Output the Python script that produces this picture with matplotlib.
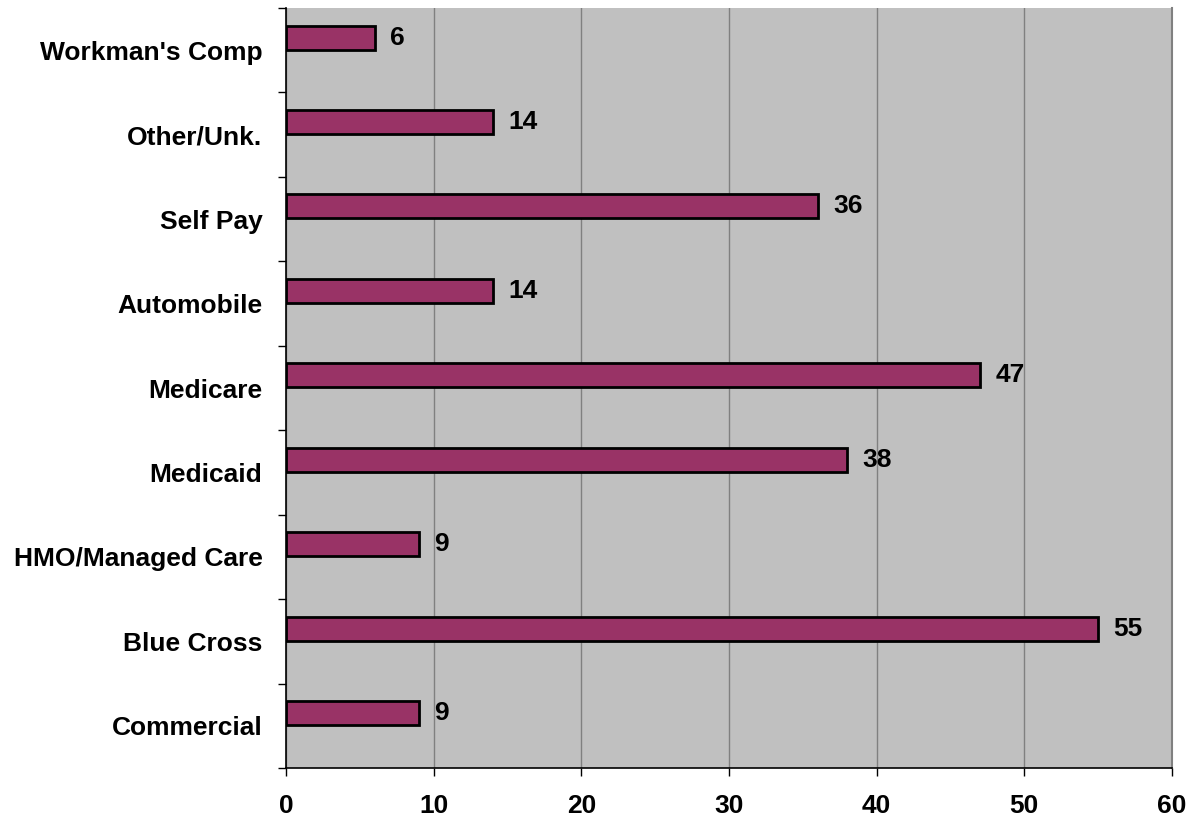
import numpy as np
import matplotlib.pyplot as plt
from matplotlib.ticker import FixedLocator

payers = ['Commercial', 'Blue Cross', 'HMO/Managed Care', 'Medicaid', 'Medicare',
          'Automobile', 'Self Pay', 'Other/Unk.', "Workman's Comp"]
counts = [9, 55, 9, 38, 47, 14, 36, 14, 6]

plt.rcParams['font.family'] = ['Liberation Sans', 'DejaVu Sans']
plt.rcParams['font.weight'] = 'bold'

fig = plt.figure(figsize=(11.98, 8.21), dpi=100)
ax = fig.add_axes([286 / 1198, 53 / 821, 886 / 1198, 760 / 821])
ax.set_facecolor('#C0C0C0')

pos = np.arange(len(payers))
# bars sit a little above the centre of each category slot
bar_y = pos + 0.15
ax.barh(bar_y, counts, height=0.285, color='#993366', edgecolor='black',
        linewidth=2, zorder=3)

for y, v in zip(bar_y, counts):
    ax.annotate(str(v), (v, y), xytext=(11, 0), textcoords='offset points',
                ha='left', va='center', fontsize=19, fontweight='bold', zorder=4)

ax.set_xlim(0, 60)
ax.set_ylim(-0.5, len(payers) - 0.5)
ax.set_xticks(range(0, 61, 10))
ax.set_yticks(pos)
ax.set_yticklabels(payers)
ax.yaxis.set_minor_locator(FixedLocator(np.arange(-0.5, len(payers), 1.0)))

ax.tick_params(axis='y', which='major', length=0, pad=17, labelsize=19)
ax.tick_params(axis='y', which='minor', length=6, width=1, direction='out')
ax.tick_params(axis='x', which='major', length=6, width=1, direction='out',
               pad=13, labelsize=19)
for lbl in ax.get_xticklabels() + ax.get_yticklabels():
    lbl.set_fontweight('bold')

ax.grid(axis='x', color='#808080', linewidth=1, zorder=1)
ax.set_axisbelow(True)

ax.spines['top'].set_visible(False)
ax.spines['right'].set_color('#808080')
ax.spines['right'].set_linewidth(1.5)
ax.spines['left'].set_linewidth(1.2)
ax.spines['bottom'].set_linewidth(1.2)

fig.savefig('out.png', dpi=100)
